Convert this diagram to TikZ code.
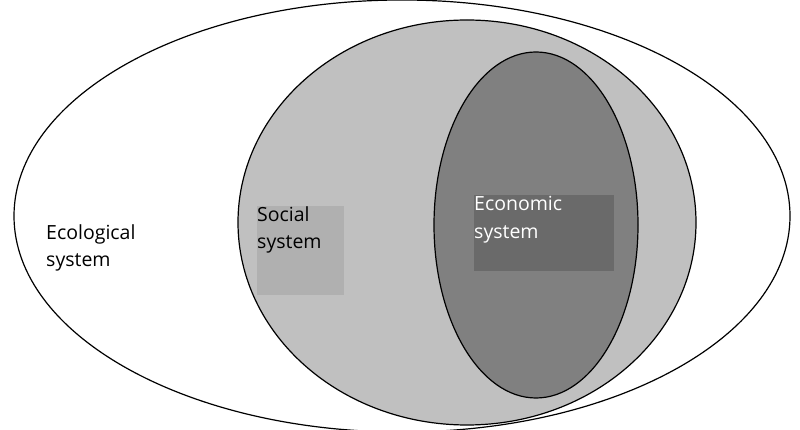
\documentclass[tikz,border=0pt]{standalone}
\usepackage{fontspec}
\setmainfont{Open Sans}
\definecolor{midgray}{HTML}{C0C0C0}
\definecolor{darkgray}{HTML}{808080}
\definecolor{socialbox}{HTML}{B0B0B0}
\definecolor{econbox}{HTML}{6A6A6A}
\tikzset{
  ring/.style={draw=black, line width=1.2pt},
  label/.style={font=\fontsize{19.5}{27.5}\selectfont, align=left, anchor=north west, inner sep=0pt},
}
\begin{document}
\begin{tikzpicture}[x=1pt,y=1pt]
\useasboundingbox (0,0) rectangle (800,430);
\fill[white] (0,0) rectangle (800,430);
% outer ecological system
\draw[ring, fill=white] (402,214) ellipse [x radius=388, y radius=216];
% social system
\draw[ring, fill=midgray] (467,207.5) ellipse [x radius=229, y radius=202.5];
\fill[socialbox] (257,135) rectangle (344,224);
% economic system
\draw[ring, fill=darkgray] (536,205) ellipse [x radius=102, y radius=173];
\fill[econbox] (474,159) rectangle (614,235);
% labels
\node[label] (eco) at (46,206) {Ecological\\system};
\node[label] (soc) at (257,224) {Social\\system};
\node[label, text=white] (econ) at (474,234) {Economic\\system};
\end{tikzpicture}
\end{document}
